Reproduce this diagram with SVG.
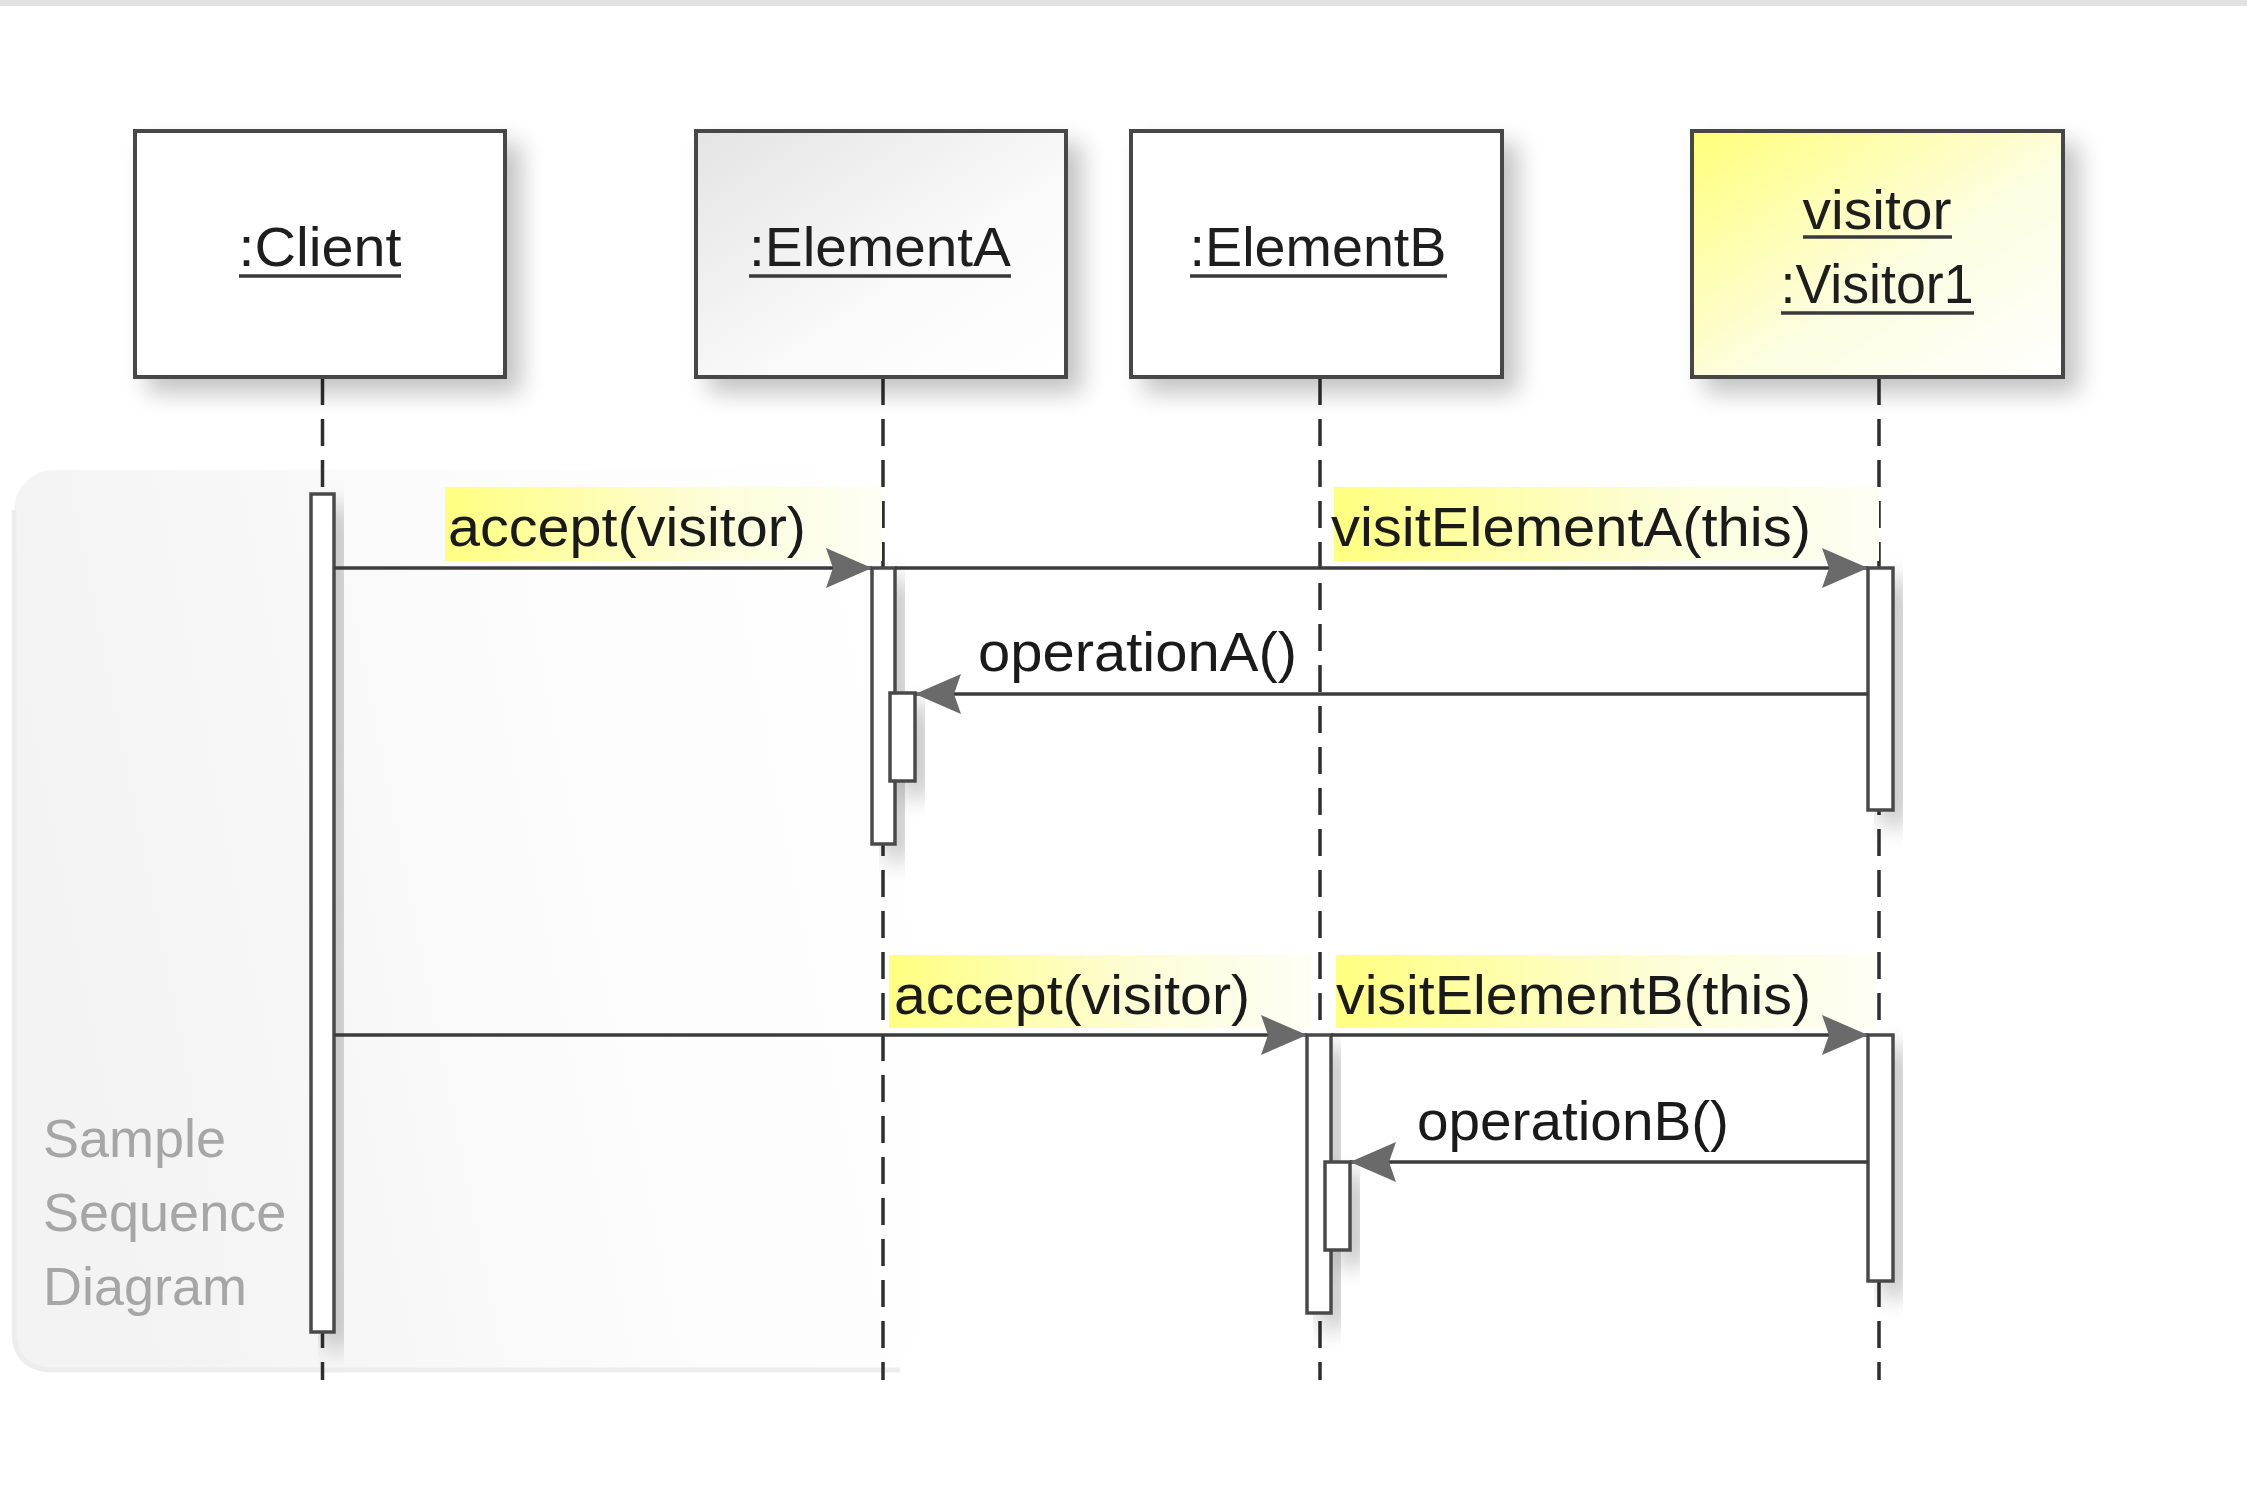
<svg xmlns="http://www.w3.org/2000/svg" width="2247" height="1496" viewBox="0 0 2247 1496">
<defs>
<style>
.box{stroke:#474747;stroke-width:4}
.lbl{font-family:"Liberation Sans",Arial,sans-serif;font-size:55px;fill:#1e1e1e}
.msg{font-family:"Liberation Sans",Arial,sans-serif;font-size:55px;fill:#1a1a1a}
.frm{font-family:"Liberation Sans",Arial,sans-serif;font-size:54px;fill:#a6a6a6}
.ul{stroke:#3a3a3a;stroke-width:3.5}
.life{stroke:#2e2e2e;stroke-width:3.5;stroke-dasharray:27 14;fill:none}
.act{fill:#ffffff;stroke:#4a4a4a;stroke-width:3.5}
.line{stroke:#3c3c3c;stroke-width:3.5;fill:none}
</style>
<filter id="sh" x="-30%" y="-30%" width="170%" height="170%">
<feGaussianBlur in="SourceAlpha" stdDeviation="12"/>
<feOffset dx="14" dy="14" result="b"/>
<feComponentTransfer><feFuncA type="linear" slope="0.24"/></feComponentTransfer>
<feMerge><feMergeNode/><feMergeNode in="SourceGraphic"/></feMerge>
</filter>
<linearGradient id="gA" x1="0" y1="0" x2="1" y2="1">
<stop offset="0" stop-color="#e4e4e4"/><stop offset="0.6" stop-color="#fafafa"/><stop offset="1" stop-color="#ffffff"/>
</linearGradient>
<linearGradient id="gV" x1="0" y1="0" x2="1" y2="1">
<stop offset="0" stop-color="#ffff7a"/><stop offset="0.55" stop-color="#fdfde0"/><stop offset="1" stop-color="#ffffff"/>
</linearGradient>
<linearGradient id="gH" x1="0" y1="0" x2="1" y2="0">
<stop offset="0" stop-color="#ffff80"/><stop offset="0.6" stop-color="#fdfdd8"/><stop offset="1" stop-color="#fefef4"/>
</linearGradient>
<linearGradient id="gF" x1="0" y1="0.2" x2="1" y2="0">
<stop offset="0" stop-color="#f3f3f3"/><stop offset="0.55" stop-color="#fcfcfc"/><stop offset="1" stop-color="#ffffff"/>
</linearGradient>
<marker id="arr" markerUnits="userSpaceOnUse" markerWidth="50" markerHeight="44" refX="46" refY="22" orient="auto">
<path d="M0,2 L46,22 L0,42 L7,22 z" fill="#6a6a6a"/>
</marker>
</defs>
<rect x="0" y="0" width="2247" height="1496" fill="#ffffff"/>
<rect x="0" y="0" width="2247" height="6" fill="#e2e2e2"/>

<g id="frame">
<rect x="14" y="470" width="900" height="900" rx="40" fill="url(#gF)"/>
<path d="M14,510 L14,1330 Q14,1370 54,1370 L900,1370" fill="none" stroke="#ededed" stroke-width="5"/>
<text class="frm" x="43" y="1157">Sample</text>
<text class="frm" x="43" y="1231">Sequence</text>
<text class="frm" x="43" y="1305">Diagram</text>
</g>

<g id="lifelines">
<line class="life" x1="322.5" y1="378" x2="322.5" y2="1380"/>
<line class="life" x1="883" y1="378" x2="883" y2="1380"/>
<line class="life" x1="1320" y1="378" x2="1320" y2="1380"/>
<line class="life" x1="1879" y1="378" x2="1879" y2="1380"/>
</g>

<g id="client">
<rect class="box" x="135" y="131" width="370" height="246" fill="#ffffff" filter="url(#sh)"/>
<text class="lbl" x="320" y="266" text-anchor="middle" textLength="163" lengthAdjust="spacingAndGlyphs">:Client</text>
<line class="ul" x1="239" y1="276" x2="401" y2="276"/>
</g>
<g id="elementA">
<rect class="box" x="696" y="131" width="370" height="246" fill="url(#gA)" filter="url(#sh)"/>
<text class="lbl" x="880" y="266" text-anchor="middle" textLength="262" lengthAdjust="spacingAndGlyphs">:ElementA</text>
<line class="ul" x1="749" y1="276" x2="1011" y2="276"/>
</g>
<g id="elementB">
<rect class="box" x="1131" y="131" width="371" height="246" fill="#ffffff" filter="url(#sh)"/>
<text class="lbl" x="1318" y="266" text-anchor="middle" textLength="257" lengthAdjust="spacingAndGlyphs">:ElementB</text>
<line class="ul" x1="1190" y1="276" x2="1447" y2="276"/>
</g>
<g id="visitor">
<rect class="box" x="1692" y="131" width="371" height="246" fill="url(#gV)" filter="url(#sh)"/>
<text class="lbl" x="1877" y="229" text-anchor="middle" textLength="149" lengthAdjust="spacingAndGlyphs">visitor</text>
<line class="ul" x1="1803" y1="237" x2="1952" y2="237"/>
<text class="lbl" x="1877" y="303" text-anchor="middle" textLength="193" lengthAdjust="spacingAndGlyphs">:Visitor1</text>
<line class="ul" x1="1781" y1="313" x2="1974" y2="313"/>
</g>

<g id="activations">
<rect class="act" x="311" y="494" width="23" height="838" filter="url(#sh)"/>
<rect class="act" x="872" y="568" width="23" height="276" filter="url(#sh)"/>
<rect class="act" x="890" y="693" width="25" height="88" filter="url(#sh)"/>
<rect class="act" x="1868" y="568" width="25" height="242" filter="url(#sh)"/>
<rect class="act" x="1307" y="1035" width="24" height="278" filter="url(#sh)"/>
<rect class="act" x="1325" y="1162" width="25" height="88" filter="url(#sh)"/>
<rect class="act" x="1868" y="1035" width="25" height="246" filter="url(#sh)"/>
</g>

<g id="labels-bg">
<rect x="445" y="487" width="437" height="74" fill="url(#gH)"/>
<rect x="1334" y="487" width="545" height="74" fill="url(#gH)"/>
<rect x="889" y="955" width="422" height="73" fill="url(#gH)"/>
<rect x="1336" y="955" width="540" height="73" fill="url(#gH)"/>
</g>

<g id="connectors">
<line class="line" x1="334" y1="568" x2="872" y2="568" marker-end="url(#arr)"/>
<line class="line" x1="895" y1="568" x2="1868" y2="568" marker-end="url(#arr)"/>
<line class="line" x1="1868" y1="694" x2="915" y2="694" marker-end="url(#arr)"/>
<line class="line" x1="334" y1="1035" x2="1307" y2="1035" marker-end="url(#arr)"/>
<line class="line" x1="1331" y1="1035" x2="1868" y2="1035" marker-end="url(#arr)"/>
<line class="line" x1="1868" y1="1162" x2="1350" y2="1162" marker-end="url(#arr)"/>
<text class="msg" x="448" y="546" textLength="358" lengthAdjust="spacingAndGlyphs">accept(visitor)</text>
<text class="msg" x="1331" y="546" textLength="480" lengthAdjust="spacingAndGlyphs">visitElementA(this)</text>
<text class="msg" x="978" y="671" textLength="319" lengthAdjust="spacingAndGlyphs">operationA()</text>
<text class="msg" x="894" y="1014" textLength="356" lengthAdjust="spacingAndGlyphs">accept(visitor)</text>
<text class="msg" x="1336" y="1014" textLength="475" lengthAdjust="spacingAndGlyphs">visitElementB(this)</text>
<text class="msg" x="1417" y="1140" textLength="312" lengthAdjust="spacingAndGlyphs">operationB()</text>
</g>
</svg>
